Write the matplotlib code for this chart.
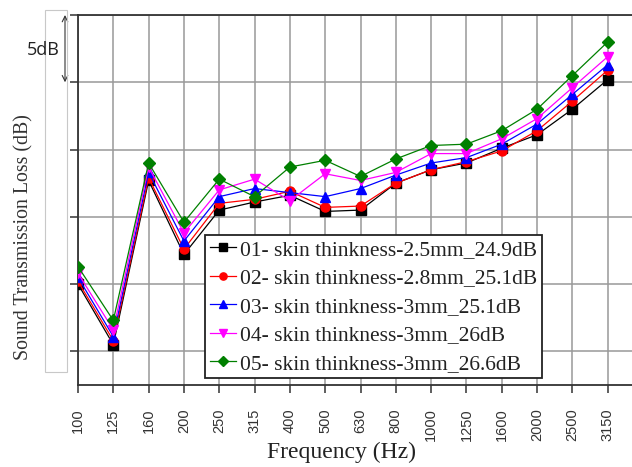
import matplotlib
matplotlib.use("Agg")
import matplotlib.pyplot as plt
from matplotlib.patches import Rectangle

# one-third octave bands (Hz)
freqs = ["100", "125", "160", "200", "250", "315", "400", "500", "630",
         "800", "1000", "1250", "1600", "2000", "2500", "3150"]

# sound transmission loss (dB, relative scale)
stl_01 = [30.0, 25.5, 37.7, 32.2, 35.5, 36.1, 36.6, 35.4, 35.5,
          37.5, 38.5, 39.0, 40.1, 41.1, 43.0, 45.2]
stl_02 = [30.2, 25.8, 37.9, 32.6, 36.0, 36.3, 36.9, 35.7, 35.8,
          37.5, 38.5, 39.1, 39.9, 41.4, 43.6, 45.9]
stl_03 = [30.5, 26.1, 38.3, 33.2, 36.5, 37.1, 36.8, 36.5, 37.1,
          38.1, 39.0, 39.4, 40.4, 41.9, 44.1, 46.3]
stl_04 = [30.8, 26.6, 38.7, 33.8, 37.0, 37.8, 36.2, 38.2, 37.7,
          38.3, 39.7, 39.7, 40.8, 42.3, 44.6, 46.9]
stl_05 = [31.3, 27.3, 39.0, 34.6, 37.8, 36.5, 38.7, 39.2, 38.0,
          39.3, 40.3, 40.4, 41.4, 43.0, 45.5, 48.0]

labels = ["01- skin thinkness-2.5mm_24.9dB",
          "02- skin thinkness-2.8mm_25.1dB",
          "03- skin thinkness-3mm_25.1dB",
          "04- skin thinkness-3mm_26dB",
          "05- skin thinkness-3mm_26.6dB"]
colors = ["black", "red", "blue", "magenta", "green"]
markers = ["s", "o", "^", "v", "D"]

W, H = 632, 467
fig = plt.figure(figsize=(W / 100, H / 100), dpi=100)
# axes runs off the right edge like the cropped original
ax = fig.add_axes([78 / W, 1 - 385 / H, 565 / W, 370 / H])

x = list(range(len(freqs)))
for y, c, m, lab in zip([stl_01, stl_02, stl_03, stl_04, stl_05], colors, markers, labels):
    ms = 6 if m == "D" else 6.5
    ax.plot(x, y, color=c, marker=m, markersize=ms, linewidth=0.9,
            label=lab, zorder=3)

ax.set_xlim(0, 16)
ax.set_ylim(22.5, 50)
ax.set_xticks(x)
ax.set_xticklabels(freqs, rotation=90, fontsize=10.5,
                   family="Liberation Sans", color="#333333")
ax.set_yticks([25, 30, 35, 40, 45, 50])
ax.set_yticklabels([])
ax.tick_params(axis="both", direction="out", length=6, width=1.1,
               color="#333333")
ax.tick_params(axis="x", pad=11)
ax.grid(True, color="#999999", linewidth=1.1, zorder=0)
ax.set_axisbelow(True)
for side in ["left", "bottom", "top"]:
    ax.spines[side].set_color("#333333")
    ax.spines[side].set_linewidth(1.3)

ax.set_xlabel("Frequency (Hz)", family="Liberation Serif", fontsize=17,
              color="#222222")
ax.xaxis.label.set_va("center")
ax.xaxis.set_label_coords(0.4655, -0.181)
ax.set_ylabel("Sound Transmission Loss (dB)", family="Liberation Serif",
              fontsize=14.3, color="#333333")
ax.yaxis.label.set_va("center")
ax.yaxis.set_label_coords(-0.0956, 0.40)

leg = ax.legend(loc="upper left", bbox_to_anchor=(0.2248, 0.4054),
                borderaxespad=0, fancybox=False, framealpha=1,
                edgecolor="#222222", prop={"family": "Liberation Serif", "size": 15.5},
                handlelength=1.2, handletextpad=0.2, labelspacing=0.39,
                borderpad=0.22, markerscale=0.8)
leg.get_frame().set_linewidth(1.3)
for t in leg.get_texts():
    t.set_color("#222222")

# 5 dB scale marker on the left
ax.annotate("", xy=(65 / W, 50), xytext=(65 / W, 45),
            xycoords=("figure fraction", "data"),
            textcoords=("figure fraction", "data"),
            arrowprops=dict(arrowstyle="<->", color="#333333", lw=0.8,
                            shrinkA=0, shrinkB=0))
fig.text(43 / W, 1 - 50 / H, "5dB", family="Open Sans", fontsize=13,
         ha="center", va="center", color="#222222")

# faint frame left over from the source picture
fig.patches.append(Rectangle((45 / W, 1 - 372 / H), 22 / W, 362 / H,
                             transform=fig.transFigure, fill=False,
                             edgecolor="#c8c8c8", linewidth=0.8))

fig.savefig("out.png", dpi=100)
plt.close(fig)
